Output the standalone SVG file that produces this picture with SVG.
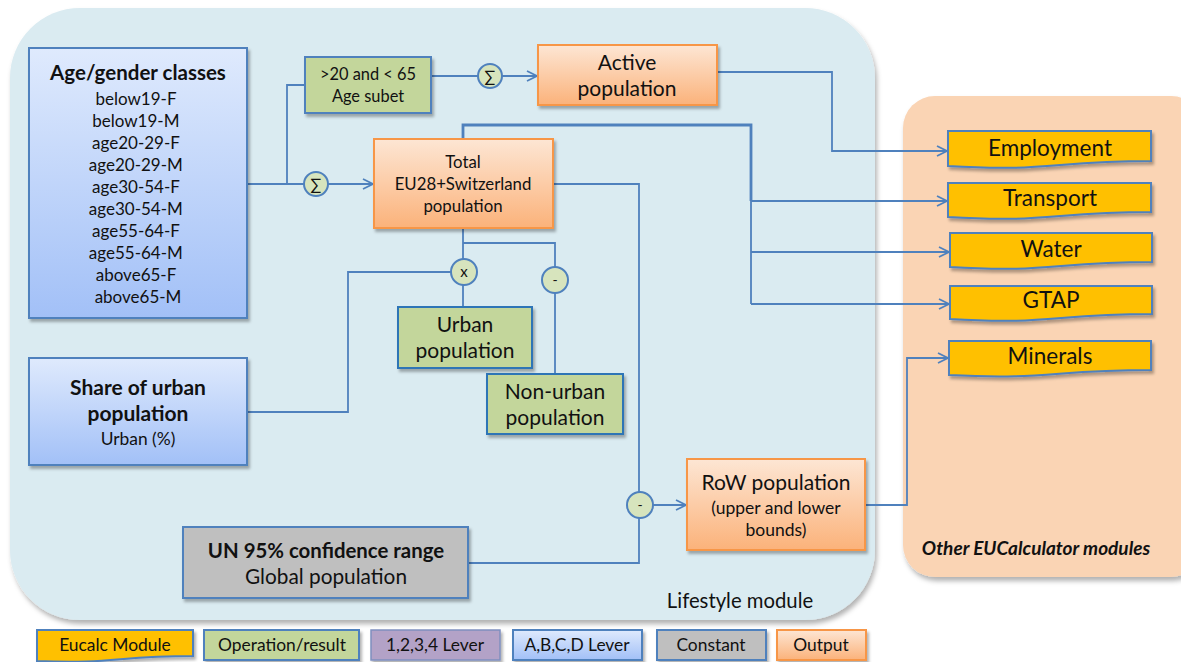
<svg xmlns="http://www.w3.org/2000/svg" width="1181" height="662" viewBox="0 0 1181 662">
  <defs>
    <linearGradient id="gBlue" x1="0" y1="0" x2="0" y2="1">
      <stop offset="0" stop-color="#DFEAFD"/>
      <stop offset="1" stop-color="#A2C0F7"/>
    </linearGradient>
    <linearGradient id="gOrange" x1="0" y1="0" x2="0" y2="1">
      <stop offset="0" stop-color="#FDE6D4"/>
      <stop offset="1" stop-color="#FBB27A"/>
    </linearGradient>
    <filter id="shadow" x="-10%" y="-10%" width="130%" height="140%">
      <feDropShadow dx="2" dy="3" stdDeviation="1.5" flood-color="#000" flood-opacity="0.3"/>
    </filter>
    <filter id="bgShadow" x="-5%" y="-5%" width="110%" height="110%">
      <feDropShadow dx="2" dy="4" stdDeviation="2.5" flood-color="#000" flood-opacity="0.3"/>
    </filter>
    <marker id="arrow" viewBox="0 0 12 12" refX="11" refY="6" markerWidth="12" markerHeight="12" markerUnits="userSpaceOnUse" orient="auto">
      <path d="M1,1 L11,6 L1,11" fill="none" stroke="#4F81BD" stroke-width="1.8"/>
    </marker>
  </defs>
  <style>
    text { font-family: "Lato", "Liberation Sans", sans-serif; fill: #111; text-anchor: middle; }
    .b { font-weight: bold; }
    .blue { fill: url(#gBlue); stroke: #4F81BD; stroke-width: 2; }
    .orange { fill: url(#gOrange); stroke: #F79646; stroke-width: 2; }
    .green { fill: #C3D69B; stroke: #4F81BD; stroke-width: 2; }
    .green2 { fill: #C3D69B; stroke: #2E75B6; stroke-width: 2; }
    .grey { fill: #BFBFBF; stroke: #4F81BD; stroke-width: 2; }
    .purple { fill: #B3A2C7; stroke: #7F8FBF; stroke-width: 1.5; }
    .module { fill: #FFC000; stroke: #4F81BD; stroke-width: 2; }
    .op { fill: #D7E4BD; stroke: #4F81BD; stroke-width: 2; }
    .line { fill: none; stroke: #4F81BD; stroke-width: 1.8; }
    .thick { fill: none; stroke: #4F81BD; stroke-width: 2.8; }
    .mod { font-size: 22.5px; }
    .leg { font-size: 17.4px; }
  </style>

  <!-- module backgrounds -->
  <rect id="lifestyle-bg" x="10" y="8" width="865" height="612" rx="70" ry="70" fill="#DAEBF1" filter="url(#bgShadow)"/>
  <rect id="other-bg" x="903" y="96" width="300" height="481" rx="32" ry="32" fill="#FAD4B4" filter="url(#bgShadow)"/>
  <text x="740" y="608" font-size="20.3">Lifestyle module</text>
  <text x="1036" y="555" font-size="19" class="b" font-style="italic">Other EUCalculator modules</text>

  <!-- connectors -->
  <g id="connectors">
    <path class="line" d="M247,184 H304"/>
    <path class="line" d="M287,184 V85 H305"/>
    <path class="line" d="M431,76 H478"/>
    <path class="line" d="M502,76 H537" marker-end="url(#arrow)"/>
    <path class="line" d="M328,184 H373" marker-end="url(#arrow)"/>
    <path class="line" d="M717,72 H832 V151 H947" marker-end="url(#arrow)"/>
    <path class="thick" d="M463,139 V125 H751 V201"/>
    <path class="line" d="M751,201 V304"/>
    <path class="line" d="M751,201 H947" marker-end="url(#arrow)"/>
    <path class="line" d="M751,252 H949" marker-end="url(#arrow)"/>
    <path class="line" d="M751,304 H949" marker-end="url(#arrow)"/>
    <path class="line" d="M553,184 H639 V493"/>
    <path class="line" d="M463,228 V259"/>
    <path class="line" d="M463,243 H555 V267"/>
    <path class="line" d="M463,285 V307"/>
    <path class="line" d="M451,272 H348 V412 H247"/>
    <path class="line" d="M555,293 V374"/>
    <path class="line" d="M468,563 H639 V517"/>
    <path class="line" d="M652,505 H686" marker-end="url(#arrow)"/>
    <path class="line" d="M865,505 H907 V358 H948" marker-end="url(#arrow)"/>
  </g>

  <!-- lever: age / gender classes -->
  <g id="age-gender">
    <rect class="blue" x="29" y="48" width="218" height="270" filter="url(#shadow)"/>
    <text x="138" y="80" font-size="20.5" class="b">Age/gender classes</text>
    <text font-size="17">
      <tspan x="138" y="105">below19-F</tspan>
      <tspan x="138" y="127">below19-M</tspan>
      <tspan x="138" y="149">age20-29-F</tspan>
      <tspan x="138" y="171">age20-29-M</tspan>
      <tspan x="138" y="193">age30-54-F</tspan>
      <tspan x="138" y="215">age30-54-M</tspan>
      <tspan x="138" y="237">age55-64-F</tspan>
      <tspan x="138" y="259">age55-64-M</tspan>
      <tspan x="138" y="281">above65-F</tspan>
      <tspan x="138" y="303">above65-M</tspan>
    </text>
  </g>

  <g id="age-subset">
    <rect class="green" x="305" y="57" width="126" height="56" filter="url(#shadow)"/>
    <text x="368" y="80" font-size="16.4">&gt;20 and &lt; 65</text>
    <text x="368" y="102" font-size="16.4">Age subet</text>
  </g>

  <g id="sum-active">
    <circle class="op" cx="490" cy="76" r="12"/>
    <text x="490" y="82" font-size="16">∑</text>
  </g>

  <g id="active-population">
    <rect class="orange" x="538" y="45" width="179" height="60" filter="url(#shadow)"/>
    <text x="627" y="70" font-size="21">Active</text>
    <text x="627" y="96" font-size="21">population</text>
  </g>

  <g id="sum-total">
    <circle class="op" cx="316" cy="184" r="12"/>
    <text x="316" y="190" font-size="16">∑</text>
  </g>

  <g id="total-population">
    <rect class="orange" x="374" y="139" width="179" height="89" filter="url(#shadow)"/>
    <text x="463" y="168" font-size="16.8">Total</text>
    <text x="463" y="190" font-size="16.8">EU28+Switzerland</text>
    <text x="463" y="212" font-size="16.8">population</text>
  </g>

  <g id="multiply">
    <circle class="op" cx="464" cy="272" r="13"/>
    <text x="464" y="277" font-size="15">x</text>
  </g>

  <g id="subtract-urban">
    <circle class="op" cx="555" cy="280" r="13"/>
    <text x="555" y="285" font-size="14">-</text>
  </g>

  <g id="urban-population">
    <rect class="green2" x="398" y="307" width="134" height="61" filter="url(#shadow)"/>
    <text x="465" y="332" font-size="21">Urban</text>
    <text x="465" y="358" font-size="21">population</text>
  </g>

  <g id="non-urban-population">
    <rect class="green2" x="487" y="374" width="136" height="60" filter="url(#shadow)"/>
    <text x="555" y="399" font-size="21">Non-urban</text>
    <text x="555" y="425" font-size="21">population</text>
  </g>

  <g id="urban-share">
    <rect class="blue" x="29" y="358" width="218" height="107" filter="url(#shadow)"/>
    <text x="138" y="395" font-size="21" class="b">Share of urban</text>
    <text x="138" y="421" font-size="21" class="b">population</text>
    <text x="138" y="445" font-size="17.4">Urban (%)</text>
  </g>

  <g id="un-range">
    <rect class="grey" x="183" y="527" width="285" height="71" filter="url(#shadow)"/>
    <text x="326" y="558" font-size="20.4" class="b">UN 95% confidence range</text>
    <text x="326" y="584" font-size="20.8">Global population</text>
  </g>

  <g id="subtract-row">
    <circle class="op" cx="640" cy="505" r="13"/>
    <text x="640" y="510" font-size="14">-</text>
  </g>

  <g id="row-population">
    <rect class="orange" x="687" y="459" width="178" height="91" filter="url(#shadow)"/>
    <text x="776" y="490" font-size="21">RoW population</text>
    <text x="776" y="514" font-size="17.5">(upper and lower</text>
    <text x="776" y="536" font-size="17.5">bounds)</text>
  </g>

  <!-- other modules (document shapes) -->
  <g id="employment">
    <path class="module" d="M948,131 H1151 V161 C1050,161 1050,172 948,166 Z" filter="url(#shadow)"/>
    <text class="mod" x="1050" y="156">Employment</text>
  </g>
  <g id="transport">
    <path class="module" d="M948,183 H1151 V212 C1050,212 1050,223 948,217 Z" filter="url(#shadow)"/>
    <text class="mod" x="1050" y="206">Transport</text>
  </g>
  <g id="water">
    <path class="module" d="M950,233 H1152 V262 C1051,262 1051,273 950,267 Z" filter="url(#shadow)"/>
    <text class="mod" x="1051" y="257">Water</text>
  </g>
  <g id="gtap">
    <path class="module" d="M950,286 H1152 V314 C1051,314 1051,325 950,319 Z" filter="url(#shadow)"/>
    <text class="mod" x="1051" y="308">GTAP</text>
  </g>
  <g id="minerals">
    <path class="module" d="M949,341 H1151 V370 C1050,370 1050,380 949,375 Z" filter="url(#shadow)"/>
    <text class="mod" x="1050" y="364">Minerals</text>
  </g>

  <!-- legend -->
  <g id="legend">
    <path class="module" d="M37,630 H193 V656 C115,656 115,664 37,661 Z" filter="url(#shadow)"/>
    <text class="leg" x="115" y="651">Eucalc Module</text>
    <rect class="green" x="204" y="630" width="155" height="30" stroke-width="1.5" filter="url(#shadow)"/>
    <text class="leg" x="282" y="651">Operation/result</text>
    <rect class="purple" x="371" y="630" width="129" height="30" filter="url(#shadow)"/>
    <text class="leg" x="435" y="651">1,2,3,4 Lever</text>
    <rect class="blue" x="513" y="630" width="129" height="30" stroke-width="1.5" filter="url(#shadow)"/>
    <text class="leg" x="577" y="651">A,B,C,D Lever</text>
    <rect class="grey" x="657" y="630" width="109" height="30" stroke-width="1.5" filter="url(#shadow)"/>
    <text class="leg" x="711" y="651">Constant</text>
    <rect class="orange" x="777" y="630" width="89" height="30" filter="url(#shadow)"/>
    <text class="leg" x="821" y="651">Output</text>
  </g>
</svg>
